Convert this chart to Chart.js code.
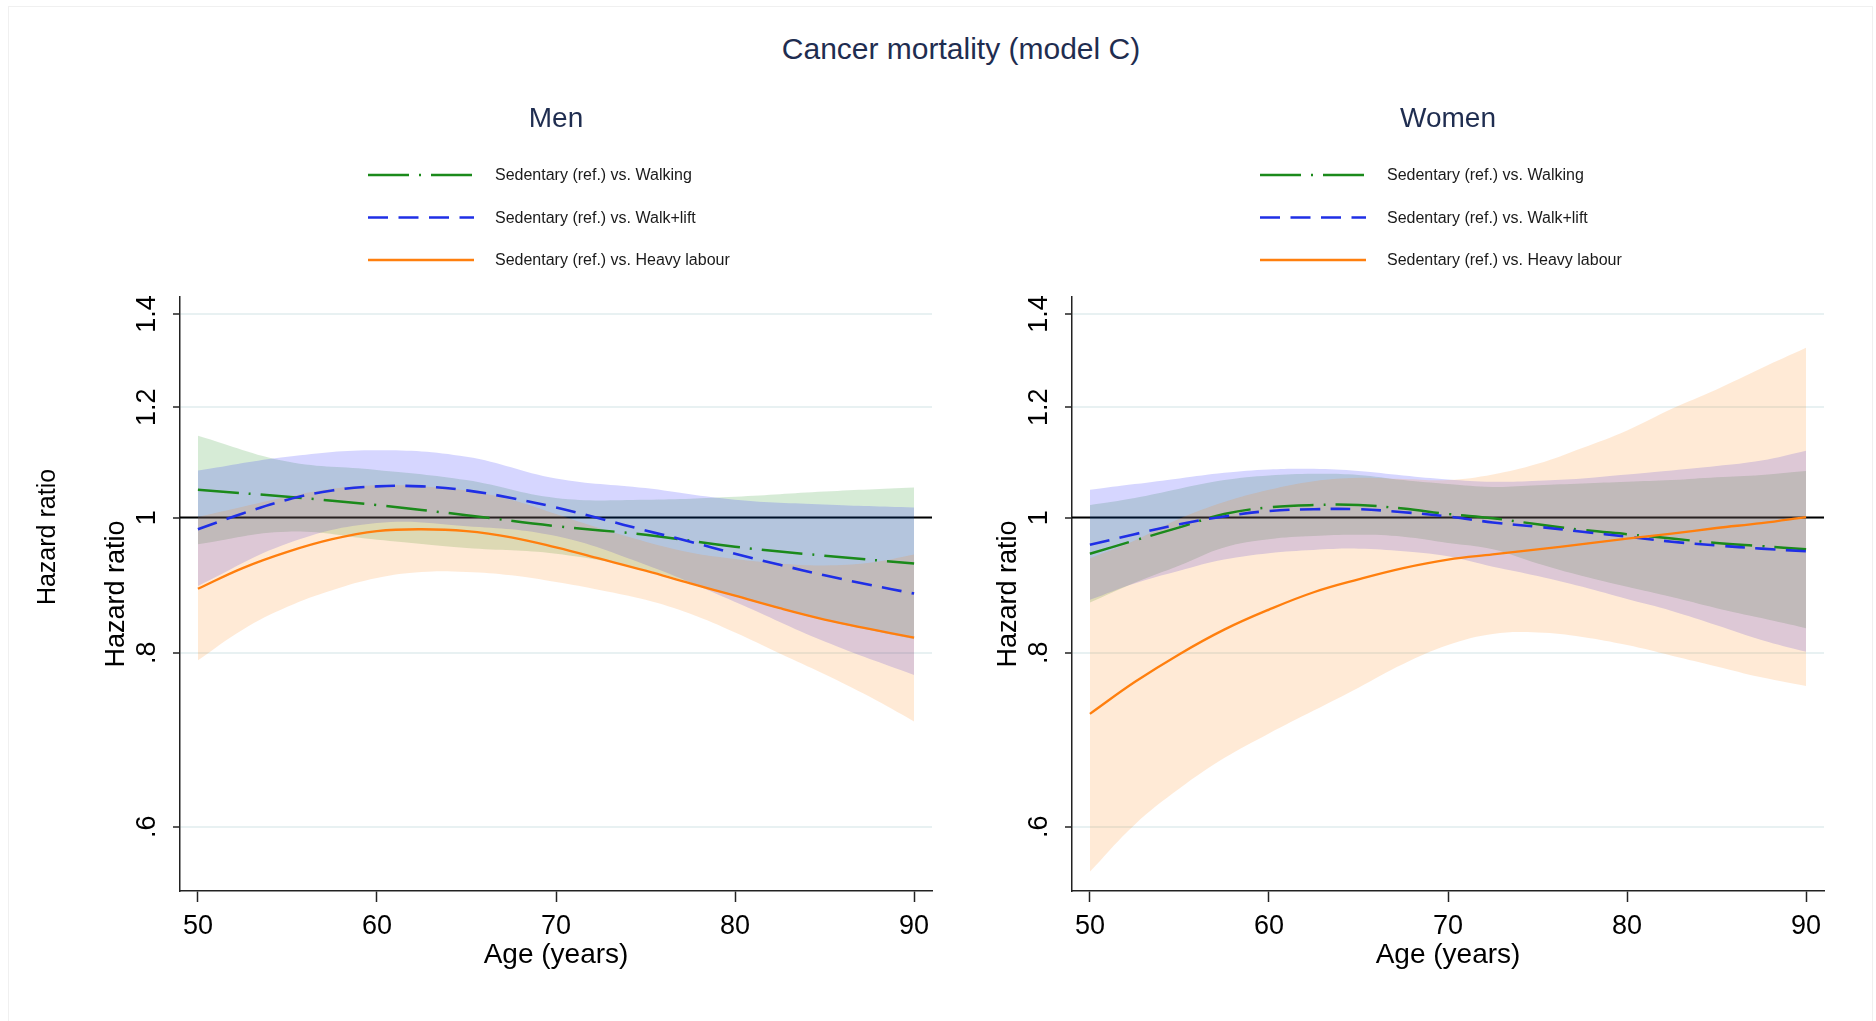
<!DOCTYPE html>
<html>
<head>
<meta charset="utf-8">
<title>Cancer mortality (model C)</title>
<script src="https://cdn.jsdelivr.net/npm/chart.js@4.4.1/dist/chart.umd.min.js"></script>
<style>
  html, body { margin: 0; padding: 0; background: #fff; }
  body { width: 1876px; height: 1021px; position: relative; overflow: hidden; font-family: "Liberation Sans", Arial, sans-serif; }
  #frame { position: absolute; left: 8px; top: 6px; width: 1863px; height: 1030px; border: 1px solid #f0f0f0; }
  #mainTitle { position: absolute; left: 961px; top: 34px; transform: translateX(-50%); font-size: 30px; line-height: 30px; color: #1f2d50; white-space: nowrap; }
  canvas { position: absolute; top: 0; }
  #men { left: 0; }
  #women { left: 938px; }
</style>
</head>
<body>
<div id="frame"></div>
<div id="mainTitle">Cancer mortality (model C)</div>
<canvas id="men" width="938" height="1021"></canvas>
<canvas id="women" width="938" height="1021"></canvas>
<script>
// ages (years) at which the curves were read
const ages = [50, 52.5, 55, 57.5, 60, 62.5, 65, 67.5, 70, 72.5, 75, 77.5, 80, 82.5, 85, 87.5, 90];
const ages5 = [50, 55, 60, 65, 70, 75, 80, 85, 90];

const xTicks = [50, 60, 70, 80, 90];
const yTicks = [0.6, 0.8, 1, 1.2, 1.4];
const yTickLabels = ['.6', '.8', '1', '1.2', '1.4'];
const refHR = 1;

const legendLabels = [
    'Sedentary (ref.) vs. Walking',
    'Sedentary (ref.) vs. Walk+lift',
    'Sedentary (ref.) vs. Heavy labour'
];

// Men - hazard ratios and 95% CI
const menWalk   = [1.047, 1.035, 1.021, 1.004, 0.986, 0.972, 0.953, 0.939, 0.927];
const menWalkHi = [1.145, 1.097, 1.082, 1.064, 1.033, 1.030, 1.035, 1.044, 1.051];
const menWalkLo = [0.957, 0.977, 0.964, 0.951, 0.942, 0.917, 0.878, 0.844, 0.818];

const menLift   = [0.981, 1.007, 1.030, 1.046, 1.053, 1.053, 1.046, 1.033, 1.017, 0.998, 0.979, 0.961, 0.942, 0.925, 0.909, 0.895, 0.882];
const menLiftHi = [1.081, 1.106, 1.118, 1.106, 1.067, 1.050, 1.030, 1.022, 1.017];
const menLiftLo = [0.893, 0.958, 0.991, 0.986, 0.970, 0.925, 0.870, 0.815, 0.771];

const menHeavy   = [0.889, 0.920, 0.945, 0.965, 0.978, 0.981, 0.978, 0.968, 0.952, 0.934, 0.916, 0.897, 0.879, 0.861, 0.845, 0.832, 0.820];
const menHeavyHi = [1.001, 1.018, 1.035, 1.049, 1.055, 1.053, 1.046, 1.030, 1.006, 0.982, 0.961, 0.944, 0.934, 0.927, 0.924, 0.928, 0.941];
const menHeavyLo = [0.790, 0.831, 0.863, 0.887, 0.905, 0.914, 0.914, 0.909, 0.899, 0.887, 0.873, 0.853, 0.827, 0.799, 0.772, 0.744, 0.714];

// Women
const womenWalk   = [0.942, 0.963, 0.984, 1.006, 1.017, 1.021, 1.021, 1.015, 1.006, 0.999, 0.989, 0.980, 0.973, 0.966, 0.959, 0.954, 0.949];
const womenWalkHi = [1.021, 1.033, 1.049, 1.064, 1.072, 1.075, 1.073, 1.064, 1.057, 1.052, 1.055, 1.058, 1.061, 1.064, 1.069, 1.073, 1.080];
const womenWalkLo = [0.869, 0.898, 0.924, 0.952, 0.965, 0.970, 0.972, 0.969, 0.959, 0.949, 0.927, 0.908, 0.892, 0.877, 0.861, 0.847, 0.833];

const womenLift   = [0.956, 0.973, 0.989, 1.002, 1.011, 1.014, 1.014, 1.009, 1.002, 0.992, 0.985, 0.977, 0.969, 0.961, 0.955, 0.950, 0.946];
const womenLiftHi = [1.047, 1.057, 1.067, 1.077, 1.083, 1.084, 1.080, 1.072, 1.065, 1.061, 1.063, 1.067, 1.074, 1.081, 1.089, 1.099, 1.117];
const womenLiftLo = [0.873, 0.897, 0.916, 0.933, 0.943, 0.948, 0.950, 0.946, 0.938, 0.922, 0.908, 0.892, 0.874, 0.857, 0.837, 0.817, 0.801];

const womenHeavy   = [0.723, 0.762, 0.798, 0.831, 0.859, 0.884, 0.903, 0.920, 0.933, 0.941, 0.949, 0.957, 0.966, 0.974, 0.983, 0.991, 1.001];
const womenHeavyHi = [0.935, 0.963, 0.998, 1.026, 1.047, 1.062, 1.068, 1.066, 1.064, 1.074, 1.093, 1.122, 1.155, 1.197, 1.236, 1.280, 1.324];
const womenHeavyLo = [0.557, 0.602, 0.639, 0.672, 0.700, 0.727, 0.755, 0.785, 0.810, 0.825, 0.827, 0.821, 0.810, 0.796, 0.782, 0.768, 0.757];

// line styles (Stata-like)
const styleWalk  = { color: '#1b8a1b', width: 2.5, dash: [41, 10, 2, 10], band: 'rgba(0,128,0,0.16)' };
const styleLift  = { color: '#1f2fe6', width: 2.6, dash: [20, 10.5],      band: 'rgba(0,0,255,0.16)' };
const styleHeavy = { color: '#ff7f0e', width: 2.3, dash: [],              band: 'rgba(255,127,0,0.16)' };

Chart.defaults.font.family = '"Liberation Sans", Arial, sans-serif';

function pts(xs, ys) {
    return ys.map((y, i) => ({ x: xs[i], y: y }));
}

function lineSet(label, xs, ys, st) {
    return {
        label: label,
        data: pts(xs, ys),
        borderColor: st.color,
        borderWidth: st.width,
        borderDash: st.dash,
        borderCapStyle: 'butt',
        pointRadius: 0,
        fill: false,
        tension: 0.4
    };
}

function bandSets(xs, hi, lo, st) {
    return [
        { data: pts(xs, hi), borderColor: 'rgba(0,0,0,0)', borderWidth: 0, pointRadius: 0, fill: false, tension: 0.4 },
        { data: pts(xs, lo), borderColor: 'rgba(0,0,0,0)', borderWidth: 0, pointRadius: 0, fill: '-1', backgroundColor: st.band, tension: 0.4 }
    ];
}

// titles, legend and the HR = 1 reference line
const panelDecor = {
    id: 'panelDecor',
    beforeDatasetsDraw(chart) {
        const { ctx, chartArea: a, scales: { y } } = chart;
        const yy = y.getPixelForValue(refHR);
        ctx.save();
        ctx.strokeStyle = '#000';
        ctx.lineWidth = 2;
        ctx.beginPath();
        ctx.moveTo(a.left, yy);
        ctx.lineTo(a.right, yy);
        ctx.stroke();
        ctx.restore();
    },
    afterDraw(chart, args, opts) {
        const { ctx, chartArea: a } = chart;
        const cx = (a.left + a.right) / 2;
        ctx.save();
        ctx.textAlign = 'center';
        ctx.textBaseline = 'middle';
        ctx.fillStyle = '#1f2d50';
        ctx.font = '28px "Liberation Sans", Arial, sans-serif';
        ctx.fillText(opts.title, cx, 119);

        // legend: walking, walk+lift, heavy labour (datasets 2, 1, 0)
        ctx.font = '16px "Liberation Sans", Arial, sans-serif';
        ctx.textAlign = 'left';
        [2, 1, 0].forEach((di, row) => {
            const ds = chart.data.datasets[di];
            const yRow = 175 + row * 42.5;
            ctx.strokeStyle = ds.borderColor;
            ctx.lineWidth = ds.borderWidth;
            ctx.lineCap = 'butt';
            ctx.setLineDash(ds.borderDash);
            ctx.beginPath();
            ctx.moveTo(cx - 188, yRow);
            ctx.lineTo(cx - 82, yRow);
            ctx.stroke();
            ctx.setLineDash([]);
            ctx.fillStyle = '#1a1a1a';
            ctx.fillText(legendLabels[row], cx - 61, yRow + 1);
        });

        if (opts.outerTitle) {
            ctx.translate(48, 537);
            ctx.rotate(-Math.PI / 2);
            ctx.textAlign = 'center';
            ctx.fillStyle = '#000';
            ctx.font = '25px "Liberation Sans", Arial, sans-serif';
            ctx.fillText(opts.outerTitle, 0, 0);
        }
        ctx.restore();
    }
};

function makePanel(id, datasets, cfg) {
    return new Chart(document.getElementById(id), {
        type: 'line',
        data: { datasets: datasets },
        options: {
            responsive: false,
            animation: false,
            layout: { padding: { top: 297, right: cfg.padRight, left: 0, bottom: 0 } },
            plugins: {
                legend: { display: false },
                tooltip: { enabled: false },
                panelDecor: { title: cfg.title, outerTitle: cfg.outerTitle }
            },
            scales: {
                x: {
                    type: 'linear',
                    min: 49,
                    max: 91,
                    afterBuildTicks: s => { s.ticks = xTicks.map(v => ({ value: v })); },
                    afterFit: s => { s.height = 130; },
                    grid: { drawOnChartArea: false, tickLength: 11, tickColor: '#222', tickWidth: 1.5 },
                    border: { color: '#222', width: 1.5 },
                    ticks: { font: { size: 27 }, color: '#000', padding: 8, maxRotation: 0, callback: v => String(v) },
                    title: { display: true, text: 'Age (years)', font: { size: 28 }, color: '#000', padding: { top: 0, bottom: 49 } }
                },
                y: {
                    type: 'logarithmic',
                    min: 0.5395,
                    max: 1.44,
                    afterBuildTicks: s => { s.ticks = yTicks.map(v => ({ value: v })); },
                    afterFit: s => { s.width = cfg.yWidth; },
                    grid: { color: '#e8f1f2', lineWidth: 2, tickLength: 7, tickColor: '#222', tickWidth: 1.5 },
                    border: { color: '#222', width: 1.5 },
                    ticks: { font: { size: 27 }, color: '#000', minRotation: 90, maxRotation: 90, crossAlign: 'center', padding: 7,
                             callback: (v, i) => yTickLabels[i] },
                    title: { display: true, text: 'Hazard ratio', font: { size: 27 }, color: '#000', padding: { top: cfg.yTitlePad, bottom: 0 } }
                }
            }
        },
        plugins: [panelDecor]
    });
}

makePanel('men', [
    lineSet(legendLabels[2], ages, menHeavy, styleHeavy),
    lineSet(legendLabels[1], ages, menLift, styleLift),
    lineSet(legendLabels[0], ages5, menWalk, styleWalk),
    ...bandSets(ages, menHeavyHi, menHeavyLo, styleHeavy),
    ...bandSets(ages5, menLiftHi, menLiftLo, styleLift),
    ...bandSets(ages5, menWalkHi, menWalkLo, styleWalk)
], { title: 'Men', outerTitle: 'Hazard ratio', padRight: 6, yWidth: 180, yTitlePad: 100 });

makePanel('women', [
    lineSet(legendLabels[2], ages, womenHeavy, styleHeavy),
    lineSet(legendLabels[1], ages, womenLift, styleLift),
    lineSet(legendLabels[0], ages, womenWalk, styleWalk),
    ...bandSets(ages, womenHeavyHi, womenHeavyLo, styleHeavy),
    ...bandSets(ages, womenLiftHi, womenLiftLo, styleLift),
    ...bandSets(ages, womenWalkHi, womenWalkLo, styleWalk)
], { title: 'Women', outerTitle: null, padRight: 52, yWidth: 134, yTitlePad: 54 });
</script>
</body>
</html>
